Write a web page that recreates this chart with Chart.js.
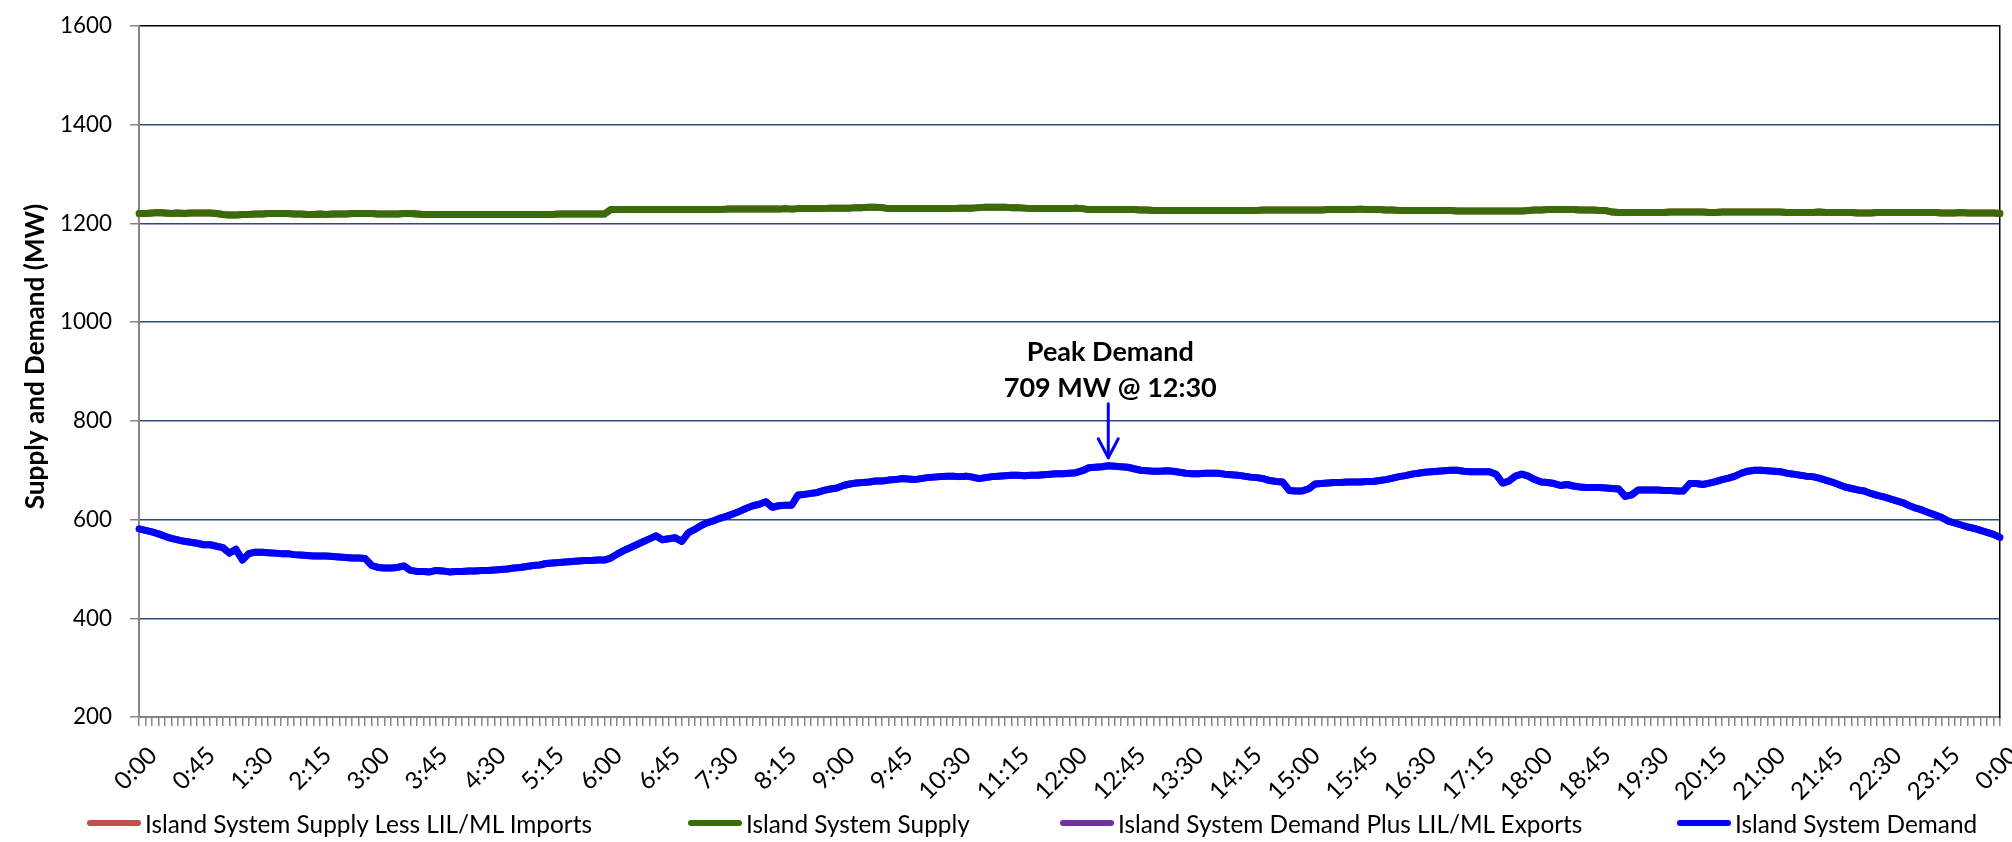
<!DOCTYPE html>
<html>
<head>
<meta charset="utf-8">
<script src="https://cdn.jsdelivr.net/npm/chart.js@4.4.0/dist/chart.umd.min.js"></script>
<style>
  html, body { margin: 0; padding: 0; background: #ffffff; }
  #wrap { position: relative; width: 2012px; height: 842px; overflow: hidden; }
  #c { display: block; }
  #legend { position: absolute; left: 0; top: 0; width: 2012px; height: 842px; pointer-events: none; }
  .lg-item { position: absolute; display: flex; align-items: center; white-space: nowrap; color: #000; font-family: Lato, sans-serif; height: 40px; }
  .lg-sw { display: inline-block; width: 54px; height: 6px; border-radius: 3px; margin-right: 4px; }
</style>
</head>
<body>
<div id="wrap">
  <canvas id="c" width="2012" height="842"></canvas>
  <div id="legend"></div>
</div>
<script>
// ---------------- data ----------------
const seriesNames = [
  'Island System Supply Less LIL/ML Imports',
  'Island System Supply',
  'Island System Demand Plus LIL/ML Exports',
  'Island System Demand'
];
const yTitle = 'Supply and Demand (MW)';

// x-axis tick labels shown every 45 minutes
const tickLabels = ["0:00","0:45","1:30","2:15","3:00","3:45","4:30","5:15","6:00","6:45","7:30","8:15",
  "9:00","9:45","10:30","11:15","12:00","12:45","13:30","14:15","15:00","15:45","16:30","17:15",
  "18:00","18:45","19:30","20:15","21:00","21:45","22:30","23:15","0:00"];

// 5-minute categories from 0:00 to 0:00 the next day
const categories = [];
for (let h = 0; h < 24; h++) {
  for (let m = 0; m < 60; m += 5) categories.push(h + ':' + String(m).padStart(2, '0'));
}
categories.push('0:00');

// Island System Demand (MW), 5-minute values
const demand = [
  581,578,575,571,566,562,559,556,554,552,549,549,
  546,543,532,540,518,531,534,534,533,532,531,531,
  529,528,527,526,526,526,525,524,523,522,522,521,
  507,503,502,502,503,506,497,495,495,494,497,496,
  494,495,495,496,496,497,497,498,499,500,502,503,
  505,507,508,511,512,513,514,515,516,517,517,518,
  518,522,530,537,543,549,555,561,567,559,561,563,
  556,573,580,588,594,598,603,607,612,617,623,628,
  631,636,625,628,629,629,650,651,653,655,659,662,
  664,669,672,674,675,676,678,678,680,681,683,682,
  681,683,685,686,687,688,688,687,688,686,683,685,
  687,688,689,690,690,689,690,690,691,692,693,693,
  694,695,699,705,706,707,709,708,707,706,703,700,
  699,698,698,699,698,696,694,693,693,694,694,694,
  692,691,690,688,686,685,683,679,677,676,659,658,
  658,662,672,673,674,675,675,676,676,676,677,677,
  679,681,684,687,689,692,694,696,697,698,699,700,
  700,698,697,697,697,697,692,674,678,688,692,688,
  681,676,675,673,669,671,668,666,665,665,665,664,
  663,662,647,650,660,660,660,660,659,659,658,658,
  673,673,671,674,677,681,684,688,694,698,700,700,
  699,698,697,694,692,690,688,687,684,680,676,671,
  666,663,660,658,653,649,646,642,638,634,628,623,
  619,614,609,604,597,593,589,585,582,578,574,570,
  564
];

// Island System Supply (MW), 5-minute values
const supply = [
  1220,1220,1221,1222,1221,1220,1221,1220,1221,1221,1221,1221,
  1220,1218,1217,1217,1218,1218,1219,1219,1220,1220,1220,1220,
  1219,1219,1218,1218,1219,1218,1219,1219,1219,1220,1220,1220,
  1220,1219,1219,1219,1219,1220,1220,1219,1218,1218,1218,1218,
  1218,1218,1218,1218,1218,1218,1218,1218,1218,1218,1218,1218,
  1218,1218,1218,1218,1218,1219,1219,1219,1219,1219,1219,1219,
  1219,1228,1228,1228,1228,1228,1228,1228,1228,1228,1228,1228,
  1228,1228,1228,1228,1228,1228,1228,1229,1229,1229,1229,1229,
  1229,1229,1229,1229,1230,1229,1230,1230,1230,1230,1230,1231,
  1231,1231,1231,1232,1232,1233,1233,1232,1230,1230,1230,1230,
  1230,1230,1230,1230,1230,1230,1230,1231,1231,1231,1232,1233,
  1233,1233,1233,1232,1232,1231,1230,1230,1230,1230,1230,1230,
  1230,1231,1230,1228,1228,1228,1228,1228,1228,1228,1228,1227,
  1227,1226,1226,1226,1226,1226,1226,1226,1226,1226,1226,1226,
  1226,1226,1226,1226,1226,1226,1227,1227,1227,1227,1227,1227,
  1227,1227,1227,1227,1228,1228,1228,1228,1228,1229,1228,1228,
  1228,1227,1227,1226,1226,1226,1226,1226,1226,1226,1226,1226,
  1225,1225,1225,1225,1225,1225,1225,1225,1225,1225,1225,1226,
  1227,1227,1228,1228,1228,1228,1228,1227,1227,1227,1226,1226,
  1223,1222,1222,1222,1222,1222,1222,1222,1222,1223,1223,1223,
  1223,1223,1223,1222,1222,1223,1223,1223,1223,1223,1223,1223,
  1223,1223,1223,1222,1222,1222,1222,1222,1223,1222,1222,1222,
  1222,1222,1221,1221,1221,1222,1222,1222,1222,1222,1222,1222,
  1222,1222,1222,1221,1221,1221,1222,1221,1221,1221,1221,1221,
  1220
];

// No LIL/ML imports or exports on this day: these series coincide with supply / demand
const supplyLessImports = supply.slice();
const demandPlusExports = demand.slice();

const seriesColors = ['#C0504D', '#3A6B0A', '#7030A0', '#0000FF'];

// ---------------- fonts (sizes fitted to the reference text widths) ----------------
const FONT = 'Lato';
function textWidth(text, size, weight) {
  const s = document.createElement('span');
  s.style.cssText = 'position:absolute;left:0;top:0;visibility:hidden;white-space:nowrap;font-family:' + FONT +
    ';font-size:' + size + 'px;font-weight:' + weight + ';';
  s.textContent = text;
  document.body.appendChild(s);
  const w = s.getBoundingClientRect().width;
  s.remove();
  return w;
}
function fitSize(text, width, weight) {
  return +(100 * width / textWidth(text, 100, weight)).toFixed(2);
}
const baseSize = fitSize(seriesNames[0], 447, 'normal');
const yTickSize = fitSize('1200', 52, 'normal');
const titleSize = fitSize(yTitle, 305, 'bold');
const annSize = fitSize('Peak Demand', 167, 'bold');

// ---------------- peak annotation ----------------
const peakPlugin = {
  id: 'peakNote',
  afterDatasetsDraw(chart) {
    const peak = Math.max.apply(null, demand);
    const idx = demand.indexOf(peak);
    const px = chart.scales.x.getPixelForValue(idx);
    const py = chart.scales.y.getPixelForValue(peak);
    const ctx = chart.ctx;
    ctx.save();
    ctx.strokeStyle = '#0000FF';
    ctx.lineWidth = 3;
    ctx.lineCap = 'round';
    ctx.lineJoin = 'round';
    ctx.beginPath();
    ctx.moveTo(px, py - 62);
    ctx.lineTo(px, py - 8);
    ctx.stroke();
    ctx.beginPath();
    ctx.moveTo(px - 10, py - 27);
    ctx.lineTo(px, py - 8);
    ctx.lineTo(px + 10, py - 27);
    ctx.stroke();
    ctx.fillStyle = '#000';
    ctx.font = 'bold ' + annSize + 'px ' + FONT;
    ctx.textAlign = 'center';
    ctx.textBaseline = 'middle';
    ctx.fillText('Peak Demand', px + 2, py - 113);
    ctx.fillText(peak + ' MW @ ' + categories[idx], px + 2, py - 77);
    ctx.restore();
  }
};

// ---------------- y-axis title ----------------
const yTitlePlugin = {
  id: 'yTitle',
  afterDraw(chart) {
    const a = chart.chartArea;
    const ctx = chart.ctx;
    ctx.save();
    ctx.translate(a.left - 103, (a.top + a.bottom) / 2 - 15);
    ctx.rotate(-Math.PI / 2);
    ctx.fillStyle = '#000';
    ctx.font = 'bold ' + titleSize + 'px ' + FONT;
    ctx.textAlign = 'center';
    ctx.textBaseline = 'middle';
    ctx.fillText(yTitle, 0, 0);
    ctx.restore();
  }
};

// ---------------- chart ----------------
const GRID_BLUE = '#2B4C7E';
const AXIS_GRAY = '#868686';

const chart = new Chart(document.getElementById('c'), {
  type: 'line',
  data: {
    labels: categories,
    datasets: [
      { label: seriesNames[0], data: supplyLessImports, borderColor: seriesColors[0], backgroundColor: seriesColors[0], order: 1 },
      { label: seriesNames[1], data: supply, borderColor: seriesColors[1], backgroundColor: seriesColors[1], order: 0 },
      { label: seriesNames[2], data: demandPlusExports, borderColor: seriesColors[2], backgroundColor: seriesColors[2], order: 1 },
      { label: seriesNames[3], data: demand, borderColor: seriesColors[3], backgroundColor: seriesColors[3], order: 0 }
    ]
  },
  options: {
    responsive: false,
    animation: false,
    devicePixelRatio: 1,
    layout: { padding: { left: 0, right: 12, top: 26, bottom: 0 } },
    plugins: { legend: { display: false }, tooltip: { enabled: false } },
    elements: {
      point: { radius: 0, hoverRadius: 0 },
      line: { tension: 0, borderWidth: 7, borderJoinStyle: 'round', borderCapStyle: 'round', fill: false }
    },
    scales: {
      x: {
        type: 'category',
        offset: false,
        grid: { drawOnChartArea: false, color: AXIS_GRAY, tickLength: 9, lineWidth: 1.5, offset: false },
        border: { color: AXIS_GRAY, width: 2 },
        ticks: {
          autoSkip: false,
          minRotation: 45,
          maxRotation: 45,
          padding: 15,
          labelOffset: 14,
          color: '#000',
          font: { family: FONT, size: baseSize },
          callback: function (v, i) { return i % 9 === 0 ? tickLabels[i / 9] : ''; }
        },
        afterFit: function (s) { s.height = 125; s.paddingLeft = 0; s.paddingRight = 0; }
      },
      y: {
        min: 200,
        max: 1600,
        ticks: {
          stepSize: 200, padding: 18, color: '#000', font: { family: FONT, size: yTickSize },
          callback: function (v) { return String(v); }
        },
        grid: {
          color: function (c) {
            if (c.tick && c.tick.value === 1600) return '#000000';
            if (c.tick && c.tick.value === 200) return AXIS_GRAY;
            return GRID_BLUE;
          },
          tickColor: AXIS_GRAY,
          tickLength: 9,
          lineWidth: 1.5
        },
        border: { color: AXIS_GRAY, width: 2 },
        afterFit: function (s) { s.width = 139; s.paddingTop = 0; s.paddingBottom = 0; }
      },
      yRight: {
        type: 'linear',
        position: 'right',
        display: true,
        min: 0,
        max: 1,
        ticks: { display: false },
        grid: { display: false, drawOnChartArea: false, tickLength: 0 },
        border: { color: '#000000', width: 1.5 },
        afterFit: function (s) { s.width = 0; s.paddingTop = 0; s.paddingBottom = 0; }
      }
    }
  },
  plugins: [peakPlugin, yTitlePlugin]
});

// ---------------- legend (built from the chart's datasets) ----------------
const legendLefts = [87, 688, 1060, 1677];
const legendEl = document.getElementById('legend');
chart.data.datasets.forEach(function (ds, i) {
  const item = document.createElement('div');
  item.className = 'lg-item';
  item.style.left = legendLefts[i] + 'px';
  item.style.top = (823 - 20) + 'px';
  item.style.fontSize = baseSize + 'px';
  const sw = document.createElement('span');
  sw.className = 'lg-sw';
  sw.style.background = ds.borderColor;
  const tx = document.createElement('span');
  tx.textContent = ds.label;
  item.appendChild(sw);
  item.appendChild(tx);
  legendEl.appendChild(item);
});
</script>
</body>
</html>
